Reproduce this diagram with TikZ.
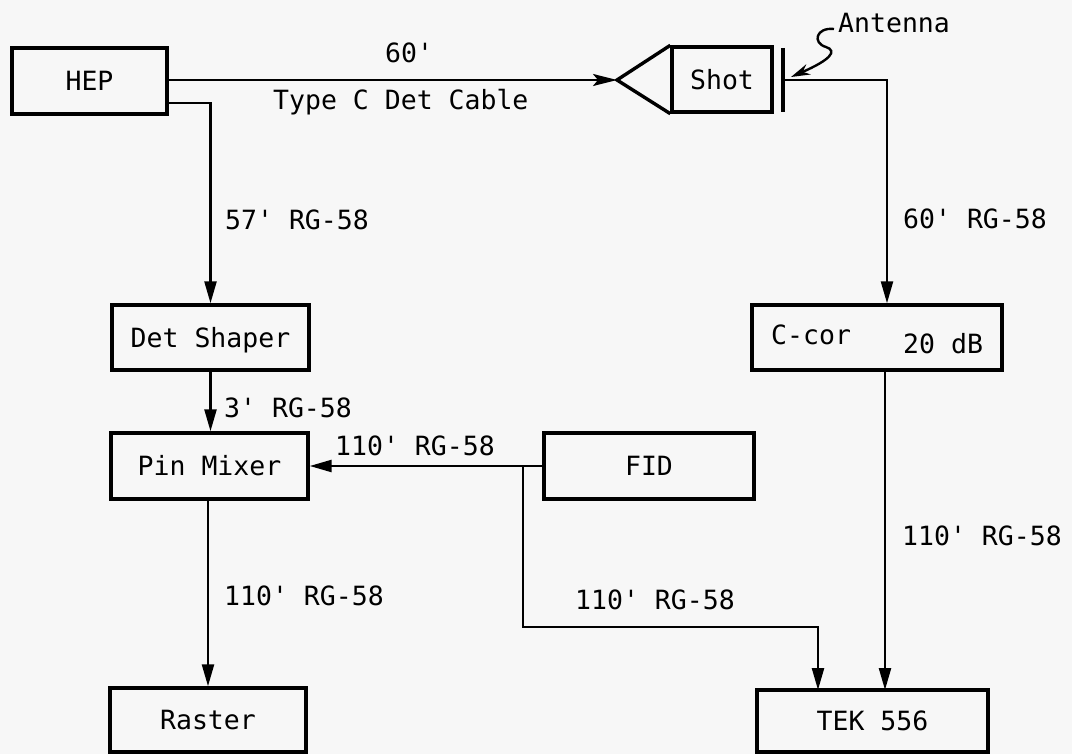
\documentclass[tikz,border=0pt]{standalone}
\usepackage{fontspec}
\setmainfont{DejaVu Sans Mono}
\usetikzlibrary{arrows.meta,calc}
\definecolor{paper}{RGB}{247,247,247}
\newcommand{\ft}{\textquotesingle}
\begin{document}
\begin{tikzpicture}[x=1pt,y=-1pt,
  font=\fontsize{26.5}{30}\selectfont,
  box/.style={draw, line width=3.4pt, inner sep=0pt, text height=19.3pt, text depth=0pt},
  lab/.style={inner sep=0pt, anchor=west, text height=19.3pt, text depth=0pt},
  conn/.style={line width=2.4pt},
  arr/.style={conn, -{Triangle[length=22pt,width=12pt]}},
]
\fill[paper] (0,0) rectangle (1072,754);
\useasboundingbox (0,0) rectangle (1072,754);

% boxes
\node[box, minimum width=155pt, minimum height=66pt] (hep) at (89.5,81) {HEP};
\node[box, minimum width=100pt, minimum height=65pt] (shot) at (722,79.5) {Shot};
\node[box, minimum width=197pt, minimum height=65pt] (det) at (210.5,337.5) {Det Shaper};
\node[box, minimum width=250pt, minimum height=65pt] (ccor) at (877,337.5) {};
\node[box, minimum width=197pt, minimum height=66pt] (pin) at (209.5,466) {Pin Mixer};
\node[box, minimum width=210pt, minimum height=66pt] (fid) at (649,466) {FID};
\node[box, minimum width=196pt, minimum height=64pt] (raster) at (208,720) {Raster};
\node[box, minimum width=231pt, minimum height=62pt] (tek) at (872.5,721) {TEK 556};

% C-cor texts
\node[lab] (ccort) at (771,335) {C-cor};
\node[lab] (ccordb) at (903,344) {20 dB};

% amplifier triangle and antenna
\coordinate (tip) at (617,80);
\draw[line width=3.4pt, line join=miter] (shot.north west) -- (tip) -- (shot.south west);
\coordinate (antt) at (783,48);
\coordinate (antb) at (783,112);
\draw[line width=3.4pt] (antt) -- (antb);
\coordinate (ant) at (784,80);

% connectors
\draw[conn, -{Stealth[length=24pt,width=12pt,inset=5pt]}] (hep.east |- tip) -- (tip);
\coordinate (h2) at (167,103);
\draw[arr] (h2) -| (det.north);
\coordinate (a1) at (887,80);
\draw[arr] (ant) -- (a1) -- (a1 |- ccor.north);
\draw[arr] (det.south) -- (det.south |- pin.north);
\draw[arr] (fid.west) -- (pin.east);
\draw[arr] (raster.north |- pin.south) -- (raster.north);
\coordinate (br) at (523,466);
\coordinate (tekin1) at (818,690);
\draw[arr] (br) -- (br |- 0,627) -| (tekin1);
\coordinate (tekin2) at (885,690);
\draw[arr] (tekin2 |- ccor.south) -- (tekin2);

% antenna pointer
\node[lab] (antl) at (838,23) {Antenna};
\draw[conn, -{Stealth[length=19pt,width=11pt]}] (834,29) .. controls (816,27) and (812,43) .. (826,47) .. controls (838,51) and (830,60) .. (791,77);

% labels
\node[lab] (l60) at (385,53) {60\ft};
\node[lab] (ltype) at (273,100) {Type C Det Cable};
\node[lab] (l57) at (225,220) {57\ft{} RG-58};
\node[lab] (l60r) at (903,219) {60\ft{} RG-58};
\node[lab] (l3) at (224,408) {3\ft{} RG-58};
\node[lab] (l110a) at (335,446) {110\ft{} RG-58};
\node[lab] (l110b) at (224,596) {110\ft{} RG-58};
\node[lab] (l110c) at (575,600) {110\ft{} RG-58};
\node[lab] (l110d) at (902,536) {110\ft{} RG-58};
\end{tikzpicture}
\end{document}
